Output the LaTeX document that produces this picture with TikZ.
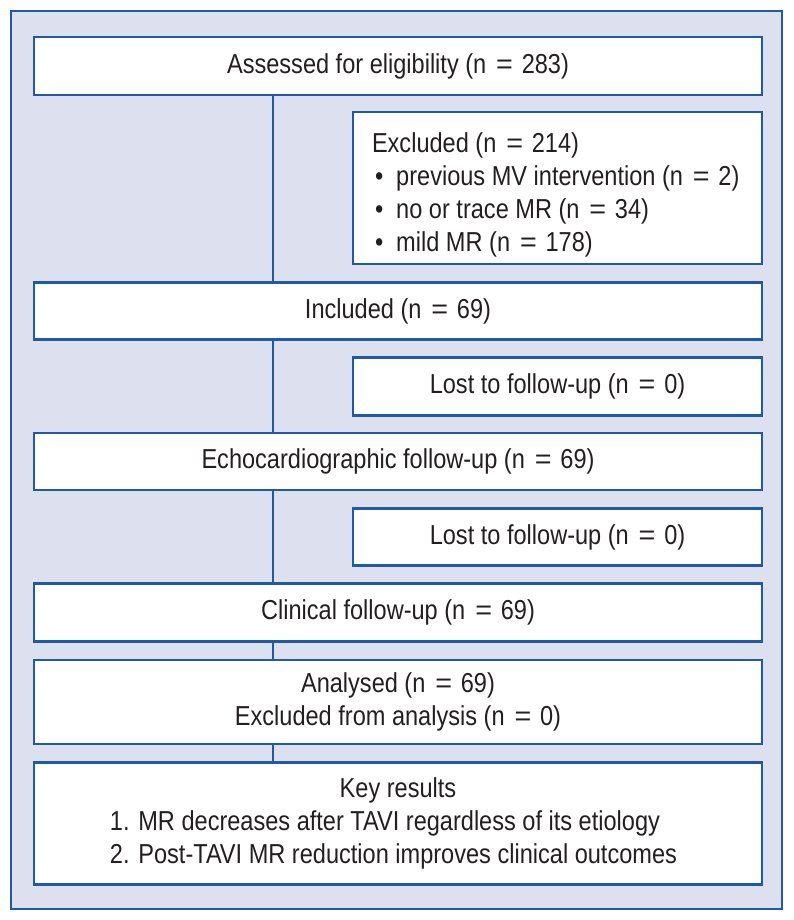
\documentclass[tikz,border=0pt]{standalone}
\usepackage{fontspec}
\usepackage{graphicx}
\setmainfont[FakeStretch=0.86]{Liberation Sans}
\usetikzlibrary{calc}
\definecolor{bgfill}{HTML}{DDE0EE}
\definecolor{frame}{HTML}{1F5AA6}
\definecolor{ink}{HTML}{231F20}
\newcommand\myeq{\hspace{0.36em}\scalebox{1.22}[1]{=}\hspace{0.32em}}
\newcommand\mybul{\hspace*{22bp}\textbullet\hspace{13bp}}
\begin{document}
\begin{tikzpicture}[x=1bp,y=-1bp,
  box/.style={draw=frame, line width=2.2bp, fill=white, inner sep=0pt, text=ink,
              font=\fontsize{27.5}{33}\selectfont, align=center},
  wide/.style={box, minimum width=728bp},
  side/.style={box, minimum width=409bp},
  spine/.style={draw=frame, line width=1.8bp}]
\useasboundingbox (0,0) rectangle (794,920);
\draw[draw=frame, line width=2.2bp, fill=bgfill] (11,11) rectangle (782,909);
\coordinate (sp) at (273,0);
\node[wide, minimum height=58bp] (box1) at (398,66) {Assessed for eligibility (n\myeq283)};
\node[box, minimum height=152bp, text width=409bp, align=flush left] (excl) at (557.5,188)
  {\hspace*{19bp}\rule{0pt}{34bp}Excluded (n\myeq214)\\
   \mybul previous MV intervention (n\myeq2)\\
   \mybul no or trace MR (n\myeq34)\\
   \mybul mild MR (n\myeq178)};
\node[wide, minimum height=57bp] (incl) at (398,311) {Included (n\myeq69)};
\node[side, minimum height=58bp] (lost1) at (557.5,386.5) {Lost to follow-up (n\myeq0)};
\node[wide, minimum height=57bp] (echo) at (398,461.5) {Echocardiographic follow-up (n\myeq69)};
\node[side, minimum height=57bp] (lost2) at (557.5,537) {Lost to follow-up (n\myeq0)};
\node[wide, minimum height=58bp] (clin) at (398,612.5) {Clinical follow-up (n\myeq69)};
\node[wide, minimum height=84bp] (anal) at (398,702) {Analysed (n\myeq69)\\Excluded from analysis (n\myeq0)};
\node[wide, minimum height=122bp, text width=576bp, inner xsep=76bp, align=flush left] (key) at (398,823.5)
  {\makebox[576bp]{Key results}\\1. MR decreases after TAVI regardless of its etiology\\2. Post-TAVI MR reduction improves clinical outcomes};
\draw[spine] (box1.south -| sp) -- (incl.north -| sp);
\draw[spine] (incl.south -| sp) -- (echo.north -| sp);
\draw[spine] (echo.south -| sp) -- (clin.north -| sp);
\draw[spine] (clin.south -| sp) -- (anal.north -| sp);
\draw[spine] (anal.south -| sp) -- (key.north -| sp);
\end{tikzpicture}
\end{document}
